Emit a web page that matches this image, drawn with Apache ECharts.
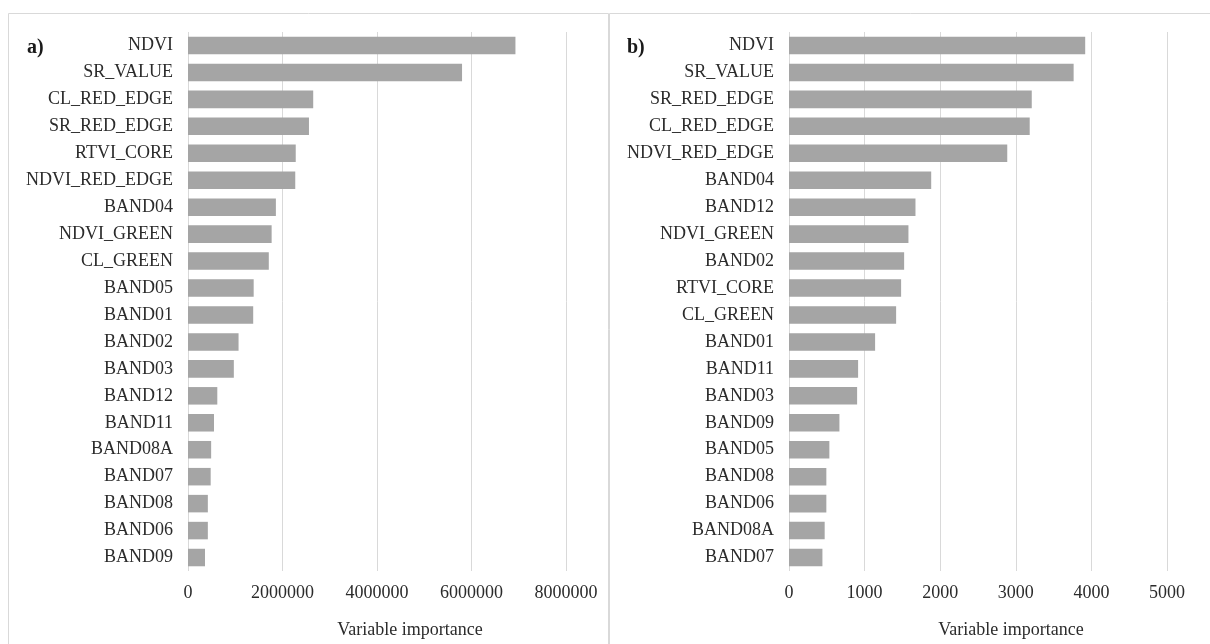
<!DOCTYPE html>
<html>
<head>
<meta charset="utf-8">
<script src="https://cdn.jsdelivr.net/npm/echarts@6/dist/echarts.min.js"></script>
<style>
  html, body { margin: 0; padding: 0; background: #ffffff; }
  #chart { width: 1210px; height: 644px; }
</style>
</head>
<body>
<div id="chart"></div>
<script>
// Panel a) variables, top to bottom
const categoriesA = ['NDVI', 'SR_VALUE', 'CL_RED_EDGE', 'SR_RED_EDGE', 'RTVI_CORE', 'NDVI_RED_EDGE',
  'BAND04', 'NDVI_GREEN', 'CL_GREEN', 'BAND05', 'BAND01', 'BAND02', 'BAND03', 'BAND12',
  'BAND11', 'BAND08A', 'BAND07', 'BAND08', 'BAND06', 'BAND09'];
const importanceA = [6930000, 5800000, 2650000, 2560000, 2280000, 2270000,
  1860000, 1770000, 1710000, 1390000, 1380000, 1070000, 970000, 620000,
  550000, 490000, 480000, 420000, 420000, 360000];

// Panel b) variables, top to bottom
const categoriesB = ['NDVI', 'SR_VALUE', 'SR_RED_EDGE', 'CL_RED_EDGE', 'NDVI_RED_EDGE', 'BAND04',
  'BAND12', 'NDVI_GREEN', 'BAND02', 'RTVI_CORE', 'CL_GREEN', 'BAND01', 'BAND11', 'BAND03',
  'BAND09', 'BAND05', 'BAND08', 'BAND06', 'BAND08A', 'BAND07'];
const importanceB = [3918, 3765, 3211, 3184, 2887, 1881,
  1673, 1580, 1523, 1483, 1417, 1139, 914, 901,
  667, 534, 494, 494, 472, 442];

const panelLetters = ['a)', 'b)'];
const axisTitle = 'Variable importance';
const axisA = { min: 0, max: 8000000, interval: 2000000 };
const axisB = { min: 0, max: 5000, interval: 1000 };

const FONT = "'Liberation Serif', 'Times New Roman', serif";
const TEXT = '#2b2b2b';
const GRID_LINE = '#d9d9d9';
const BAR = '#a5a5a5';

const chart = echarts.init(document.getElementById('chart'), null, { renderer: 'canvas' });

function valueAxis(idx, scale) {
  return {
    type: 'value',
    gridIndex: idx,
    min: scale.min,
    max: scale.max,
    interval: scale.interval,
    axisLine: { show: false },
    axisTick: { show: false },
    splitLine: { show: true, lineStyle: { color: GRID_LINE, width: 1 } },
    axisLabel: {
      color: TEXT, fontFamily: FONT, fontSize: 18, margin: 13,
      formatter: (v) => String(v)
    },
    name: axisTitle,
    nameLocation: 'middle',
    nameGap: 50,
    nameTextStyle: { color: TEXT, fontFamily: FONT, fontSize: 18, padding: [0, 0, 0, 66] }
  };
}

function categoryAxis(idx, cats) {
  return {
    type: 'category',
    gridIndex: idx,
    data: cats,
    inverse: true,
    axisLine: { show: false },
    axisTick: { show: false },
    splitLine: { show: false },
    axisLabel: { color: TEXT, fontFamily: FONT, fontSize: 18, margin: 15 }
  };
}

function barSeries(idx, values) {
  return {
    type: 'bar',
    xAxisIndex: idx,
    yAxisIndex: idx,
    data: values,
    barCategoryGap: '35%',
    itemStyle: { color: BAR },
    silent: true
  };
}

chart.setOption({
  animation: false,
  backgroundColor: '#ffffff',
  title: [
    { text: panelLetters[0], left: 22, top: 33,
      textStyle: { fontFamily: FONT, fontSize: 20, fontWeight: 'bold', color: '#1a1a1a' } },
    { text: panelLetters[1], left: 622, top: 33,
      textStyle: { fontFamily: FONT, fontSize: 20, fontWeight: 'bold', color: '#1a1a1a' } }
  ],
  graphic: [
    { type: 'rect', silent: true, z: -1,
      shape: { x: 8.5, y: 13.5, width: 600, height: 700 },
      style: { fill: 'none', stroke: GRID_LINE, lineWidth: 1 } },
    { type: 'rect', silent: true, z: -1,
      shape: { x: 609.5, y: 13.5, width: 620, height: 700 },
      style: { fill: 'none', stroke: GRID_LINE, lineWidth: 1 } }
  ],
  grid: [
    { left: 188, right: 644, top: 32, bottom: 71 },
    { left: 789, right: 43, top: 32, bottom: 71 }
  ],
  xAxis: [valueAxis(0, axisA), valueAxis(1, axisB)],
  yAxis: [categoryAxis(0, categoriesA), categoryAxis(1, categoriesB)],
  series: [barSeries(0, importanceA), barSeries(1, importanceB)]
});
</script>
</body>
</html>
